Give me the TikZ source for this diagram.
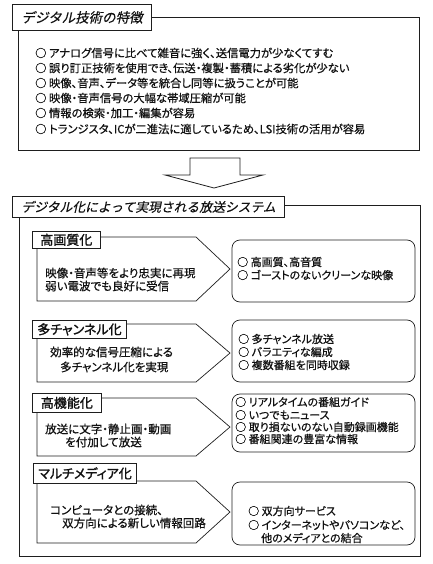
\documentclass[tikz,border=0pt]{standalone}
\usepackage{fontspec}
\usepackage{tikz}
\usetikzlibrary{positioning}
\newfontfamily\jpfont[RawFeature=+palt, FakeBold=0.6]{Noto Sans CJK JP}
\newfontfamily\jplabfont[RawFeature=+palt, FakeBold=1.4]{Noto Sans CJK JP}
\newfontfamily\jpslfont[FakeSlant=0.22, FakeBold=0.4]{Noto Sans CJK JP}
\definecolor{lineGrey}{HTML}{1E1E1E}
\definecolor{textBlack}{HTML}{111111}
% pentagon of one section: #1 top, #2 bottom
\newcommand{\featarrow}[2]{%
  \draw[secline] (37,#1) -- (196,#1) -- (230,{(#1+#2)/2}) -- (196,#2) -- (37,#2) -- cycle;
}

\begin{document}
\begin{tikzpicture}[x=1pt, y=-1pt, text=textBlack,
  panel/.style={draw=lineGrey, line width=0.8pt},
  headbox/.style={draw=lineGrey, line width=0.8pt, fill=white, anchor=north west, inner xsep=9pt, inner ysep=0pt, font=\jpslfont\fontsize{12.8}{15}\selectfont},
  secbox/.style={draw=lineGrey, line width=0.7pt, fill=white, anchor=north west, inner xsep=5pt, inner ysep=0pt, font=\jplabfont\fontsize{13}{15}\selectfont},
  secline/.style={draw=lineGrey, line width=0.7pt, fill=white},
  result/.style={draw=lineGrey, line width=0.7pt, rounded corners=8pt},
  item/.style={anchor=west, inner sep=0pt, font=\jpfont\fontsize{11.3}{13}\selectfont},
  note/.style={anchor=west, inner sep=0pt, font=\jpfont\fontsize{11.5}{13}\selectfont},
  res/.style={anchor=west, inner sep=0pt, font=\jpfont\fontsize{11}{13}\selectfont}]
  \useasboundingbox (0,0) rectangle (432,564);

  % features of digital technology
  \draw[panel] (18,17) rectangle (419,150);
  \node[headbox, minimum width=135pt, minimum height=26pt, font=\jpslfont\fontsize{13.5}{15}\selectfont] (head1) at (12,4) {デジタル技術の特徴};
  \node[item] (f1) at (35,53) {○ アナログ信号に比べて雑音に強く、送信電力が少なくてすむ};
  \node[item] (f2) at (35,68) {○ 誤り訂正技術を使用でき、伝送・複製・蓄積による劣化が少ない};
  \node[item] (f3) at (35,83) {○ 映像、音声、データ等を統合し同等に扱うことが可能};
  \node[item] (f4) at (35,98) {○ 映像・音声信号の大幅な帯域圧縮が可能};
  \node[item] (f5) at (35,113) {○ 情報の検索・加工・編集が容易};
  \node[item] (f6) at (35,129) {○ トランジスタ、ICが二進法に適しているため、LSI技術の活用が容易};

  % block arrow
  \draw[panel, fill=white] (190,158) -- (240,158) -- (240,175) -- (263,175) -- (214,188) -- (165,175) -- (190,175) -- cycle;

  % broadcasting system
  \draw[panel] (19,205) rectangle (420,556);
  \node[headbox, minimum height=21pt] (head2) at (12,196) {デジタル化によって実現される放送システム};

  % high quality
  \featarrow{237}{301}
  \node[secbox, minimum width=68pt, minimum height=17pt] (s1) at (32,231) {高画質化};
  \node[note] (n1a) at (45,273) {映像・音声等をより忠実に再現};
  \node[note] (n1b) at (45,286) {弱い電波でも良好に受信};
  \draw[result] (232,240) rectangle (415,302);
  \node[res] (r1a) at (237,262) {○ 高画質、高音質};
  \node[res] (r1b) at (237,275) {○ ゴーストのないクリーンな映像};

  % multi channel
  \featarrow{324}{382}
  \node[secbox, minimum height=18pt] (s2) at (32,320) {多チャンネル化};
  \node[note] (n2a) at (50,352) {効率的な信号圧縮による};
  \node[note] (n2b) at (60,367) {多チャンネル化を実現};
  \draw[result] (232,320) rectangle (415,382);
  \node[res] (r2a) at (238,339) {○ 多チャンネル放送};
  \node[res] (r2b) at (238,352) {○ バラエティな編成};
  \node[res] (r2c) at (238,365) {○ 複数番組を同時収録};

  % high function
  \featarrow{398}{456}
  \node[secbox, minimum width=69pt, minimum height=19pt] (s3) at (32,393) {高機能化};
  \node[note] (n3a) at (45,429) {放送に文字・静止画・動画};
  \node[note] (n3b) at (65,442) {を付加して放送};
  \draw[result] (232,394) rectangle (415,452);
  \node[res] (r3a) at (235,402) {○ リアルタイムの番組ガイド};
  \node[res] (r3b) at (235,415) {○ いつでもニュース};
  \node[res] (r3c) at (235,427) {○ 取り損ないのない自動録画機能};
  \node[res] (r3d) at (235,439) {○ 番組関連の豊富な情報};

  % multimedia
  \featarrow{481}{543}
  \node[secbox, minimum height=20pt] (s4) at (33,463) {マルチメディア化};
  \node[note] (n4a) at (50,510) {コンピュータとの接続、};
  \node[note] (n4b) at (62,523) {双方向による新しい情報回路};
  \draw[result] (232,482) rectangle (415,545);
  \node[res] (r4a) at (248,511) {○ 双方向サービス};
  \node[res] (r4b) at (248,525) {○ インターネットやパソコンなど、};
  \node[res] (r4c) at (261,538) {他のメディアとの結合};
\end{tikzpicture}
\end{document}
